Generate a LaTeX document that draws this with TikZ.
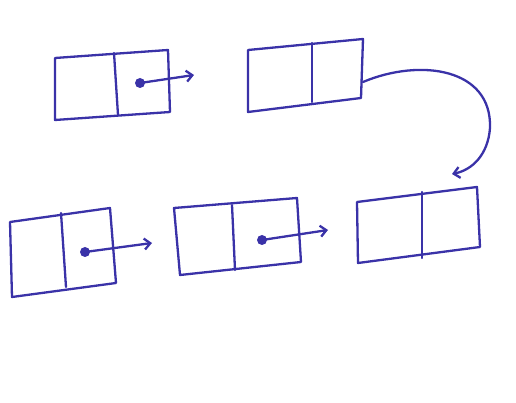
\documentclass[tikz,border=0pt]{standalone}
\usetikzlibrary{arrows.meta}
\definecolor{inkblue}{RGB}{58,50,168}
\tikzset{
  ink/.style={draw=inkblue,line width=2.3bp,line join=round,line cap=round},
  ptr/.style={ink,-{Straight Barb[length=6bp,width=11bp]}},
  knob/.style={circle,fill=inkblue,inner sep=0pt,minimum size=10bp},
}
\begin{document}
\begin{tikzpicture}[>=latex,line join=bevel,]
    \useasboundingbox (0bp,0bp) rectangle (516bp,403bp);
    %% corners of the boxes
    \coordinate (anw) at (55.0bp,345.0bp);
    \coordinate (ane) at (168.0bp,353.0bp);
    \coordinate (ase) at (170.0bp,291.0bp);
    \coordinate (asw) at (55.0bp,283.0bp);
    \coordinate (an) at (114.0bp,350.0bp);
    \coordinate (as) at (118.0bp,288.0bp);
    \coordinate (bnw) at (248.0bp,353.0bp);
    \coordinate (bne) at (363.0bp,364.0bp);
    \coordinate (bse) at (361.0bp,305.0bp);
    \coordinate (bsw) at (248.0bp,291.0bp);
    \coordinate (bn) at (312.0bp,360.0bp);
    \coordinate (bs) at (312.0bp,301.0bp);
    \coordinate (cnw) at (10.0bp,181.0bp);
    \coordinate (cne) at (110.0bp,195.0bp);
    \coordinate (cse) at (116.0bp,120.0bp);
    \coordinate (csw) at (12.0bp,106.0bp);
    \coordinate (cn) at (61.0bp,190.0bp);
    \coordinate (cs) at (66.0bp,116.0bp);
    \coordinate (dnw) at (174.0bp,195.0bp);
    \coordinate (dne) at (297.0bp,205.0bp);
    \coordinate (dse) at (301.0bp,141.0bp);
    \coordinate (dsw) at (180.0bp,128.0bp);
    \coordinate (dn) at (232.0bp,198.0bp);
    \coordinate (ds) at (235.0bp,133.0bp);
    \coordinate (enw) at (357.0bp,201.0bp);
    \coordinate (ene) at (477.0bp,216.0bp);
    \coordinate (ese) at (480.0bp,156.0bp);
    \coordinate (esw) at (358.0bp,140.0bp);
    \coordinate (en) at (422.0bp,211.0bp);
    \coordinate (es) at (422.0bp,145.0bp);
    %% pointer dots and free ends
    \node (adot) at (140.0bp,320.0bp) [knob] {};
    \node (cdot) at (85.0bp,151.0bp) [knob] {};
    \node (ddot) at (262.0bp,163.0bp) [knob] {};
    \coordinate (aend) at (194.0bp,328.0bp);
    \coordinate (cend) at (152.0bp,160.0bp);
    \coordinate (dend) at (328.0bp,173.0bp);
    \coordinate (bout) at (363.0bp,321.0bp);
    \coordinate (etop) at (452.0bp,229.0bp);
    %%
    \draw [ink] (anw) -- (ane) -- (ase) -- (asw) -- cycle;
    \draw [ink] (an) -- (as);
    \draw [ink] (bnw) -- (bne) -- (bse) -- (bsw) -- cycle;
    \draw [ink] (bn) -- (bs);
    \draw [ink] (cnw) -- (cne) -- (cse) -- (csw) -- cycle;
    \draw [ink] (cn) -- (cs);
    \draw [ink] (dnw) -- (dne) -- (dse) -- (dsw) -- cycle;
    \draw [ink] (dn) -- (ds);
    \draw [ink] (enw) -- (ene) -- (ese) -- (esw) -- cycle;
    \draw [ink] (en) -- (es);
    \draw [ptr] (adot.center) -- (aend);
    \draw [ptr] (cdot.center) -- (cend);
    \draw [ptr] (ddot.center) -- (dend);
    \draw [ptr] (bout) ..controls (420.0bp,345.0bp) and (492.0bp,335.0bp)  .. (490.0bp,275.0bp)
        ..controls (488.0bp,248.0bp) and (472.0bp,233.0bp)  .. (etop);
    %
\end{tikzpicture}
\end{document}
